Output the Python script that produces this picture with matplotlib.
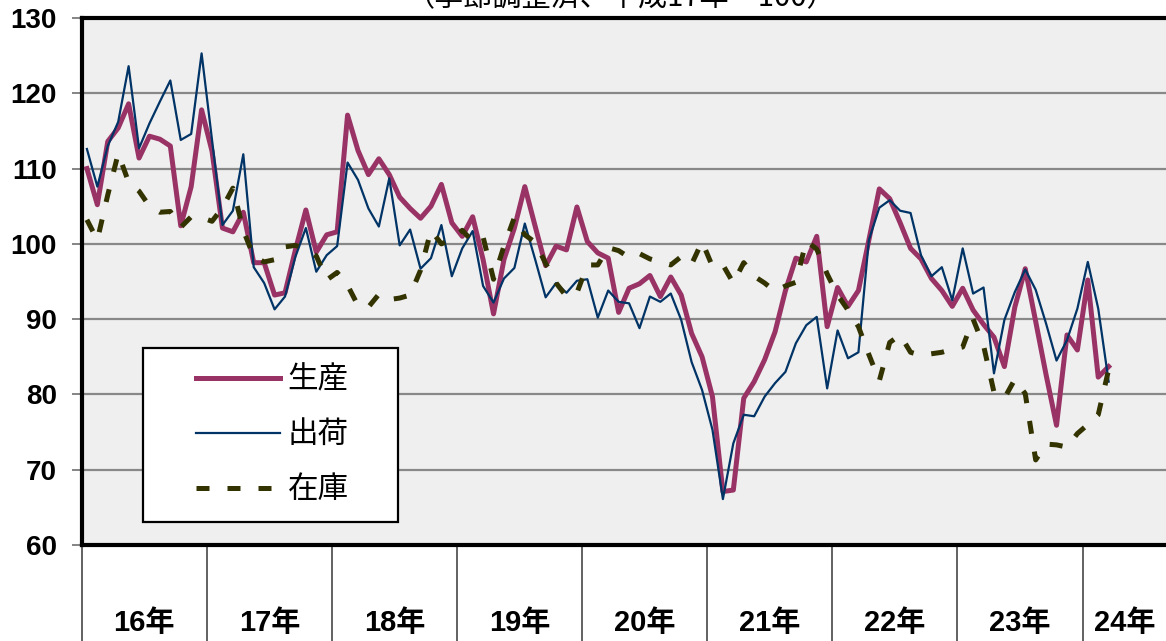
"""Production / shipments / inventory index chart (seasonally adjusted, H17 = 100)."""

import matplotlib
matplotlib.use("Agg")
import matplotlib.pyplot as plt
from matplotlib.lines import Line2D
from matplotlib.patches import Rectangle
import numpy as np

TITLE = "（季節調整済、平成17年＝100）"
SERIES_LABELS = ["生産", "出荷", "在庫"]
YEAR_LABELS = ["16年", "17年", "18年", "19年", "20年", "21年", "22年", "23年", "24年"]
YEAR_CENTERS = [6, 18, 30, 42, 54, 66, 78, 90, 100]
YEAR_BOUNDS = [0, 12, 24, 36, 48, 60, 72, 84, 96]

# monthly values, Jan 16年 .. Mar 24年
PRODUCTION = [
    110.0, 105.2, 113.6, 115.4, 118.6, 111.4, 114.3, 113.9, 113.0, 102.4, 107.6, 117.8,
    112.3, 102.1, 101.6, 104.2, 97.5, 97.5, 93.2, 93.5, 99.2, 104.5, 98.9, 101.2,
    101.6, 117.1, 112.4, 109.2, 111.3, 109.2, 106.2, 104.7, 103.4, 105.0, 107.9, 102.8,
    101.0, 103.6, 97.9, 90.7, 97.9, 102.1, 107.6, 102.3, 97.1, 99.7, 99.2, 104.9,
    100.3, 98.8, 98.1, 90.9, 94.1, 94.7, 95.8, 93.0, 95.6, 93.2, 88.1, 85.0,
    79.7, 67.1, 67.3, 79.5, 81.7, 84.6, 88.3, 93.8, 98.1, 97.6, 101.0, 89.0,
    94.2, 91.7, 93.8, 100.5, 107.3, 106.0, 102.8, 99.4, 98.0, 95.4, 93.8, 91.7,
    94.1, 91.2, 89.3, 87.6, 83.7, 91.6, 96.7, 89.7, 82.6, 75.9, 87.9, 85.9,
    95.2, 82.3, 83.7,
]
SHIPMENTS = [
    112.6, 107.6, 113.0, 116.2, 123.6, 112.7, 116.0, 118.9, 121.7, 113.8, 114.6, 125.3,
    113.8, 102.5, 104.4, 111.9, 96.9, 94.8, 91.3, 93.0, 98.3, 102.1, 96.3, 98.5,
    99.7, 110.8, 108.5, 104.7, 102.3, 108.7, 99.8, 101.9, 96.7, 98.1, 102.5, 95.7,
    99.4, 101.7, 94.4, 92.2, 95.4, 96.8, 102.7, 97.9, 92.9, 94.8, 93.5, 95.1,
    95.3, 90.2, 93.8, 92.3, 92.1, 88.8, 93.0, 92.3, 93.4, 89.9, 84.3, 80.6,
    75.3, 66.1, 73.5, 77.3, 77.1, 79.7, 81.5, 83.0, 86.8, 89.2, 90.3, 80.8,
    88.5, 84.8, 85.6, 100.5, 104.8, 105.8, 104.4, 104.1, 98.5, 95.7, 96.9, 92.5,
    99.4, 93.4, 94.2, 82.8, 89.9, 93.6, 96.6, 93.9, 89.4, 84.5, 87.2, 91.4,
    97.6, 91.4, 81.7,
]
INVENTORY = [
    103.2, 100.5, 106.5, 112.0, 108.2, 107.0, 105.0, 104.2, 104.3, 102.2, 103.6, 103.5,
    103.0, 104.8, 107.4, 101.8, 98.3, 97.6, 97.9, 99.6, 99.8, 99.3, 98.4, 95.2,
    96.2, 94.5, 91.8, 91.6, 93.3, 92.6, 92.8, 93.2, 96.5, 101.8, 100.0, 100.6,
    101.8, 100.3, 100.9, 95.3, 99.7, 103.5, 101.2, 100.2, 97.4, 94.8, 93.0, 93.5,
    97.2, 97.2, 99.5, 99.1, 98.2, 98.7, 98.0, 97.6, 97.2, 98.3, 97.3, 100.3,
    97.0, 97.2, 94.8, 97.5, 95.7, 94.8, 93.7, 94.4, 94.9, 100.4, 99.3, 96.0,
    93.2, 91.2, 89.0, 85.3, 81.8, 86.9, 87.9, 85.6, 85.2, 85.4, 85.6, 86.0,
    86.3, 90.0, 86.5, 80.3, 79.5, 82.0, 80.1, 71.3, 73.4, 73.3, 73.0, 74.8,
    76.0, 77.3, 83.3,
]

PROD_COLOR = "#993366"
SHIP_COLOR = "#003366"
INV_COLOR = "#333300"
INV_DASH = (0, (2.6, 3.6))


def main():
    plt.rcParams["font.family"] = ["Liberation Sans", "Noto Sans CJK JP"]

    fig = plt.figure(figsize=(11.66, 6.41), dpi=100)
    ax = fig.add_axes([81.7 / 1166, 96 / 641, 1084.3 / 1166, 527 / 641])
    ax.set_facecolor("#efefef")

    x = np.arange(len(PRODUCTION)) + 0.5
    ax.plot(x, PRODUCTION, color=PROD_COLOR, linewidth=3.6, zorder=3)
    ax.plot(x, SHIPMENTS, color=SHIP_COLOR, linewidth=1.6, zorder=3)
    ax.plot(x, INVENTORY, color=INV_COLOR, linewidth=3.6, linestyle=INV_DASH,
            dash_capstyle="butt", zorder=3)

    ax.set_xlim(0, 104)
    ax.set_ylim(60, 130)

    yt = list(range(60, 131, 10))
    ax.set_yticks(yt, [str(v) for v in yt], fontsize=20, fontweight="bold")
    ax.tick_params(axis="y", direction="out", length=7, width=1.2, color="#707070", pad=11)
    ax.yaxis.grid(True, color="#888888", linewidth=1.6)
    ax.set_axisbelow(True)

    ax.set_xticks(YEAR_BOUNDS)
    ax.tick_params(axis="x", which="major", direction="out", length=75, width=1.3,
                   color="#555555", labelbottom=False)
    ax.set_xticks(YEAR_CENTERS, YEAR_LABELS, minor=True, fontsize=21, fontweight="bold")
    ax.tick_params(axis="x", which="minor", length=0, pad=46)

    for side in ("left", "bottom", "top"):
        ax.spines[side].set_linewidth(3.0)
        ax.spines[side].set_color("black")
    ax.spines["right"].set_visible(False)

    # legend box
    ax.add_patch(Rectangle((0.0565, 0.0436), 0.2352, 0.3304, transform=ax.transAxes,
                           facecolor="white", edgecolor="black", linewidth=1.6, zorder=4))
    handles = [
        Line2D([], [], color=PROD_COLOR, linewidth=3.6),
        Line2D([], [], color=SHIP_COLOR, linewidth=1.6),
        Line2D([], [], color=INV_COLOR, linewidth=3.6, linestyle=INV_DASH,
               dash_capstyle="butt"),
    ]
    leg = ax.legend(handles, SERIES_LABELS, loc="upper left", bbox_to_anchor=(0.1054, 0.341),
                    frameon=False, borderpad=0, borderaxespad=0, handlelength=2.75,
                    handletextpad=0.25, labelspacing=0.82, prop={"size": 22})
    leg.set_zorder(5)

    fig.text(621 / 1166, 1.003, TITLE, ha="center", va="center", fontsize=21,
             family=["Noto Sans CJK JP"])

    fig.savefig("out.png", dpi=100)
    plt.close(fig)


if __name__ == "__main__":
    main()
